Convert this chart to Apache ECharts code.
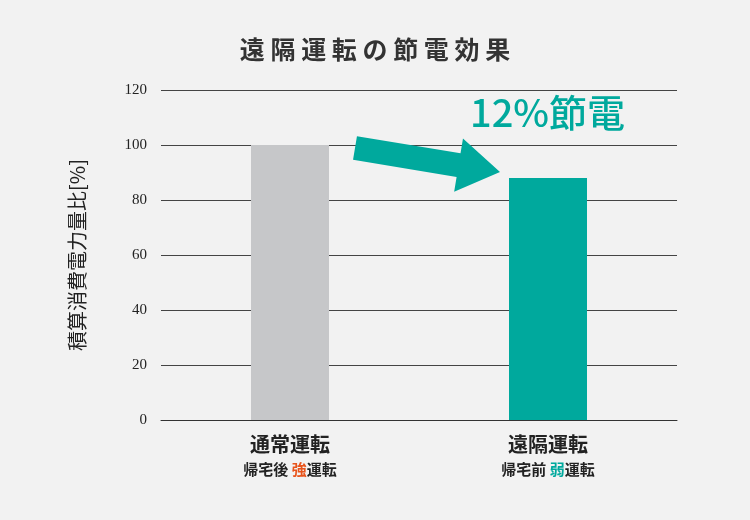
<!DOCTYPE html>
<html><head><meta charset="utf-8">
<script src="https://cdn.jsdelivr.net/npm/echarts@6/dist/echarts.min.js"></script>
<style>html,body{margin:0;padding:0;background:#f2f2f2}#c{width:750px;height:520px}</style>
</head><body><div id="c"></div>
<script>
const categories = ['通常運転', '遠隔運転'];
const subLabels = [['帰宅後 ', '強', '運転'], ['帰宅前 ', '弱', '運転']];
const values = [100, 88];
const barColors = ['#c6c7c9', '#00a99d'];
const yTicks = [0, 20, 40, 60, 80, 100, 120];
const savingText = '12%節電';

const font = '"Noto Sans CJK JP", "Noto Sans", sans-serif';
const chart = echarts.init(document.getElementById('c'));
chart.setOption({
  backgroundColor: '#f2f2f2',
  title: { text: '遠 隔 運 転 の 節 電 効 果', left: 'center', top: 32,
    textStyle: { fontFamily: font, fontSize: 25, fontWeight: 'bold', color: '#333' } },
  grid: { left: 161, right: 73, top: 90, bottom: 100 },
  xAxis: {
    type: 'category', data: categories,
    axisLine: { lineStyle: { color: '#333', width: 1 } },
    axisTick: { show: false },
    axisLabel: {
      margin: 10, interval: 0,
      formatter: (v, i) => '{m|' + v + '}\n{s|' + subLabels[i][0] + '}{' + (i === 0 ? 'r' : 'g') + '|' + subLabels[i][1] + '}{s|' + subLabels[i][2] + '}',
      rich: {
        m: { fontFamily: font, fontSize: 20, fontWeight: 'bold', color: '#222', lineHeight: 28 },
        s: { fontFamily: font, fontSize: 15, fontWeight: 'bold', color: '#222', lineHeight: 22 },
        r: { fontFamily: font, fontSize: 15, fontWeight: 'bold', color: '#e8541c', lineHeight: 22 },
        g: { fontFamily: font, fontSize: 15, fontWeight: 'bold', color: '#00a99d', lineHeight: 22 }
      }
    }
  },
  yAxis: {
    type: 'value', min: yTicks[0], max: yTicks[yTicks.length - 1], interval: 20,
    name: '積算消費電力量比[%]', nameLocation: 'middle', nameGap: 74,
    nameTextStyle: { fontFamily: font, fontSize: 20, color: '#222' },
    axisLine: { show: false }, axisTick: { show: false },
    axisLabel: { margin: 14, fontFamily: '"Liberation Serif", serif', fontSize: 15, color: '#222' },
    splitLine: { lineStyle: { color: '#444', width: 1 } }
  },
  series: [{
    type: 'bar', barWidth: 78, silent: true,
    data: values.map((v, i) => ({ value: v, itemStyle: { color: barColors[i] } }))
  }]
});

const p0 = chart.convertToPixel({ gridIndex: 0 }, [0, values[0]]);
const p1 = chart.convertToPixel({ gridIndex: 0 }, [1, values[1]]);
const sx = p0[0] + 65, sy = p0[1] + 3;
const ex = p1[0] - 48, ey = p1[1] - 6;
const dx = ex - sx, dy = ey - sy, L = Math.hypot(dx, dy);
const ux = dx / L, uy = dy / L, nx = -uy, ny = ux;
const hw = 12, hh = 27, hl = 42;
const bx = ex - ux * hl, by = ey - uy * hl;
const pts = [
  [sx + nx * hw, sy + ny * hw], [bx + nx * hw, by + ny * hw], [bx + nx * hh, by + ny * hh],
  [ex, ey], [bx - nx * hh, by - ny * hh], [bx - nx * hw, by - ny * hw], [sx - nx * hw, sy - ny * hw]
];
chart.setOption({
  graphic: [
    { type: 'polygon', shape: { points: pts }, style: { fill: '#00a99d' } },
    { type: 'text', left: 470, top: 94,
      style: { text: savingText, fill: '#00a99d', font: '500 38px ' + font } }
  ]
});
</script></body></html>
